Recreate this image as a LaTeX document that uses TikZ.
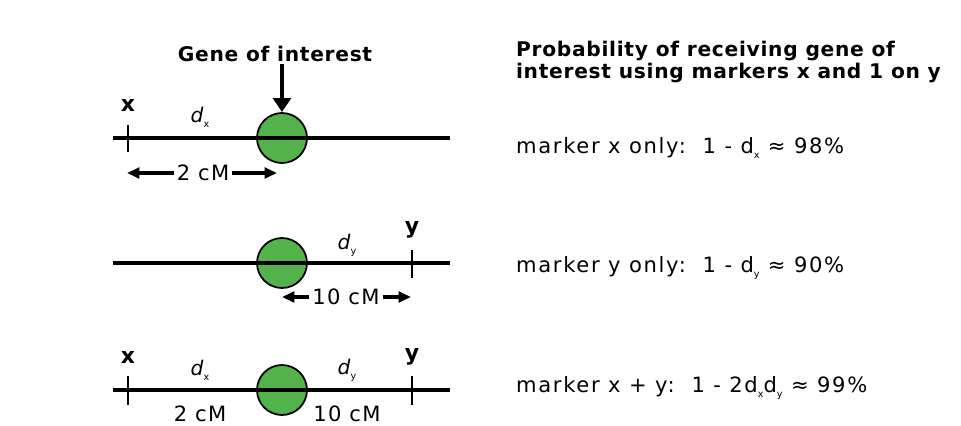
\documentclass[tikz,border=0pt]{standalone}
\usepackage{fontspec}
\setmainfont{DejaVu Sans}
\newfontfamily\lblfont[LetterSpace=6]{DejaVu Sans}
\newfontfamily\probfont[LetterSpace=8]{DejaVu Sans}
\newfontfamily\headfont[LetterSpace=3.5]{DejaVu Sans}
\usetikzlibrary{arrows.meta}

\definecolor{genegreen}{RGB}{84,178,74}
\newcommand\subx[1]{\raisebox{-0.45ex}{\fontsize{5.5}{5.5}\selectfont #1}}

\tikzset{
  chrom/.style={line width=2.8pt},
  tickmark/.style={line width=1.7pt},
  gene/.style={circle,draw,line width=1pt,fill=genegreen,minimum size=1cm,inner sep=0pt},
  lbl/.style={font=\lblfont\fontsize{12}{13}\selectfont,inner sep=1pt},
  prob/.style={font=\probfont\fontsize{12}{13}\selectfont,inner sep=1pt,anchor=west},
  mlbl/.style={font=\fontsize{12.5}{14}\selectfont\bfseries,inner sep=0pt},
  dlbl/.style={font=\fontsize{11.5}{12}\selectfont,inner sep=1pt},
  dist/.style={line width=2pt,-{Triangle[length=7pt,width=6pt]}}
}

\begin{document}
\begin{tikzpicture}[x=0.02cm,y=-0.02cm]
  \useasboundingbox (0,0) rectangle (961,426);

  % first chromosome: marker x only
  \draw[chrom] (113,138) -- (450,138);
  \node[gene] (gene1) at (282,138) {};
  \draw[chrom] (gene1.west) -- (gene1.east);
  \draw[tickmark] (128,125) -- (128,152);
  \node[mlbl] (x1) at (128,105) {x};
  \node[dlbl] (dx1) at (200,117) {\textit{d}\subx{x}};
  \node[font=\headfont\fontsize{11.5}{13}\selectfont\bfseries,inner sep=1pt] (goi) at (275,54) {Gene of interest};
  \draw[line width=2.4pt,-{Triangle[length=8pt,width=10pt]}] (goi.south -| gene1) -- (gene1.north);
  \node[lbl,inner sep=1.5pt] (cmx1) at (203,173) {2 cM};
  \draw[dist] (cmx1.west) -- (127,173);
  \draw[dist] (cmx1.east) -- (277,173);

  % second chromosome: marker y only
  \draw[chrom] (113,263) -- (450,263);
  \node[gene] (gene2) at (282,263) {};
  \draw[chrom] (gene2.west) -- (gene2.east);
  \draw[tickmark] (412,250) -- (412,278);
  \node[mlbl] (y2) at (412,230) {y};
  \node[dlbl] (dy2) at (347,245) {\textit{d}\subx{y}};
  \node[lbl,inner sep=1.5pt] (cmy2) at (346,297) {10 cM};
  \draw[dist] (cmy2.west) -- (282,297);
  \draw[dist] (cmy2.east) -- (411,297);

  % third chromosome: both markers
  \draw[chrom] (113,390) -- (450,390);
  \node[gene] (gene3) at (282,390) {};
  \draw[chrom] (gene3.west) -- (gene3.east);
  \draw[tickmark] (128,376) -- (128,405);
  \draw[tickmark] (412,376) -- (412,405);
  \node[mlbl] (x3) at (128,357) {x};
  \node[mlbl] (y3) at (412,357) {y};
  \node[dlbl] (dx3) at (200,370) {\textit{d}\subx{x}};
  \node[dlbl] (dy3) at (347,370) {\textit{d}\subx{y}};
  \node[lbl] (cmx3) at (200,414) {2 cM};
  \node[lbl] (cmy3) at (347,414) {10 cM};

  % probabilities
  \node[anchor=west,align=left,inner sep=1pt,font=\headfont\fontsize{11.5}{13}\selectfont\bfseries] (head) at (514,62)
    {Probability of receiving gene of\\interest using markers x and 1 on y};
  \node[prob] (px) at (514,148) {marker x only:\ \ 1 - d\subx{x} ≈ 98\%};
  \node[prob] (py) at (514,268) {marker y only:\ \ 1 - d\subx{y} ≈ 90\%};
  \node[prob] (pxy) at (514,388) {marker x + y:\ \ 1 - 2d\subx{x}d\subx{y} ≈ 99\%};
\end{tikzpicture}
\end{document}
